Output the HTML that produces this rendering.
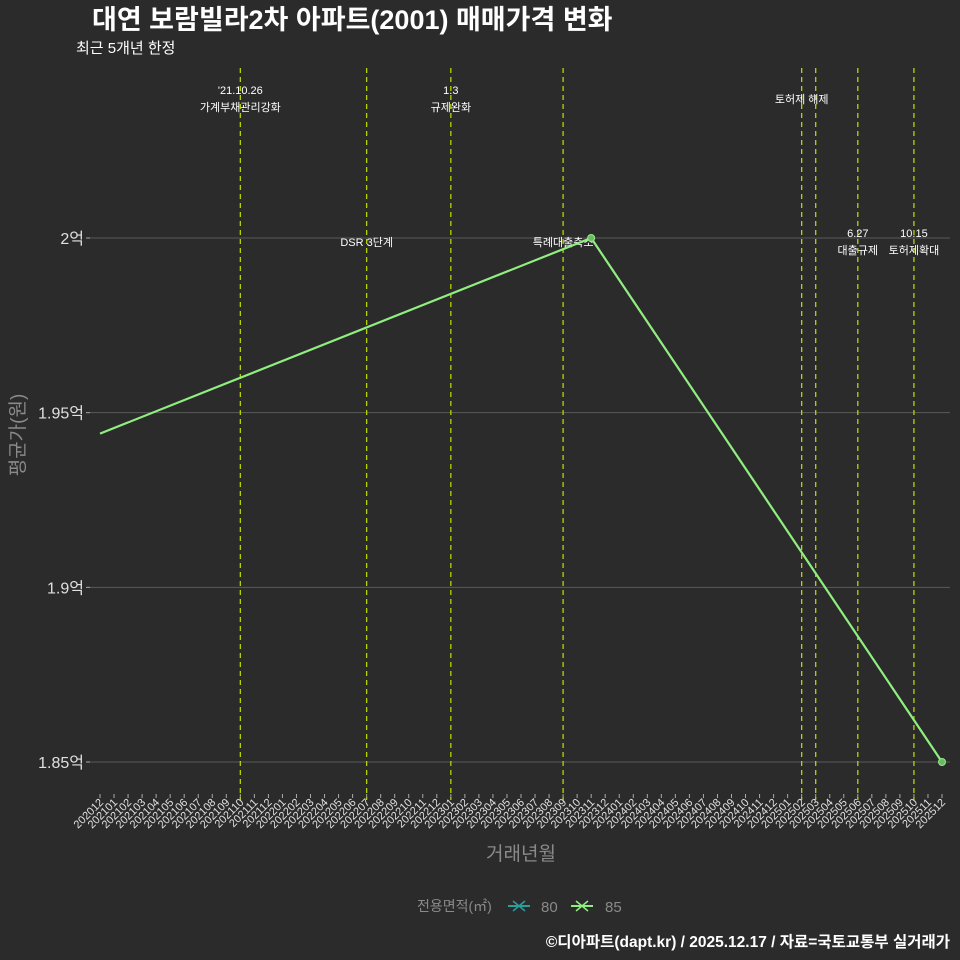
<!DOCTYPE html>
<html><head><meta charset="utf-8">
<style>
html,body{margin:0;padding:0;background:#2b2b2b;}
svg{display:block;font-family:"Liberation Sans","Noto Sans CJK KR",sans-serif;}
</style></head>
<body>
<svg id="chart" width="960" height="960" viewBox="0 0 960 960">
<rect width="960" height="960" fill="#2b2b2b"/>
<text x="92" y="29" font-size="27" font-weight="bold" fill="#ffffff">대연 보람빌라2차 아파트(2001) 매매가격 변화</text>
<text x="76" y="53" font-size="15" fill="#ffffff">최근 5개년 한정</text>
<g id="grid"></g><g id="events"></g><g id="series"></g><g id="axes"></g>
<text x="24" y="435" font-size="19" fill="#8a8a8a" text-anchor="middle" transform="rotate(-90 24 435)">평균가(원)</text>
<text x="521" y="860" font-size="19" fill="#8a8a8a" text-anchor="middle">거래년월</text>
<g>
<text x="417" y="911" font-size="14" fill="#8a8a8a">전용면적(㎡)</text>
<g><line x1="508" y1="906" x2="530" y2="906" stroke="#2a9d9d" stroke-width="2"/><line x1="513" y1="901" x2="525" y2="911" stroke="#2a9d9d" stroke-width="1.5"/><line x1="513" y1="911" x2="525" y2="901" stroke="#2a9d9d" stroke-width="1.5"/><text x="541" y="912" font-size="15" fill="#8a8a8a">80</text></g>
<g><line x1="571" y1="906" x2="593" y2="906" stroke="#90ee80" stroke-width="2"/><line x1="576" y1="901" x2="588" y2="911" stroke="#90ee80" stroke-width="1.5"/><line x1="576" y1="911" x2="588" y2="901" stroke="#90ee80" stroke-width="1.5"/><text x="605" y="912" font-size="15" fill="#8a8a8a">85</text></g>
</g>
<text x="950" y="947" font-size="15.5" font-weight="bold" fill="#ffffff" text-anchor="end">©디아파트(dapt.kr) / 2025.12.17 / 자료=국토교통부 실거래가</text>
</svg>
<script>
const months = [];
for (let y = 2020, m = 12; y < 2026; ) { months.push(y + String(m).padStart(2,'0')); m++; if (m > 12) { m = 1; y++; } if (y === 2026) break; }
const yTicks = [1.85, 1.9, 1.95, 2.0];
const yTickLabels = ["1.85억", "1.9억", "1.95억", "2억"];
const series85Months = ["202012", "202311", "202512"];
const series85Values = [1.944, 2.0, 1.85];
const series85Points = ["202311", "202512"];
const eventMonths = ["202110", "202207", "202301", "202309", "202502", "202503", "202506", "202510"];
const eventLabels = [["'21.10.26","가계부채관리강화"],["DSR 3단계"],["1.3","규제완화"],["특례대출축소"],["토허제 해제"],[],["6.27","대출규제"],["10.15","토허제확대"]];
const eventLabelY = [[94,111],[246],[94,111],[246],[103],[],[237,254],[237,254]];
const eventLabelDx = [0,0,0,0,0,0,0,0];

const NS = "http://www.w3.org/2000/svg";
const X0 = 100, X1 = 942, Y0 = 762, Y1 = 238;
const xs = m => X0 + months.indexOf(m) * (X1 - X0) / (months.length - 1);
const ys = v => Y0 + (v - 1.85) * (Y1 - Y0) / 0.15;
function el(tag, attrs, parent) { const e = document.createElementNS(NS, tag); for (const k in attrs) e.setAttribute(k, attrs[k]); parent.appendChild(e); return e; }
const grid = document.getElementById('grid'), axes = document.getElementById('axes'), ev = document.getElementById('events'), ser = document.getElementById('series');

yTicks.forEach((t, i) => {
  const g = el('line', {x1: 90, x2: 950, y1: ys(t), y2: ys(t), stroke: '#5a5a5a', 'stroke-width': 1}, grid);
  
  
  const tk = el('line', {x1: 86, x2: 90, y1: ys(t), y2: ys(t), stroke: '#aaa'}, axes);
  
  
  const tx = el('text', {x: 84, y: ys(t) + 6, 'font-size': 16, fill: '#e0e0e0', 'text-anchor': 'end'}, axes);
  tx.textContent = yTickLabels[i];
  
  
});
months.forEach(m => {
  const x = xs(m);
  const tk = el('line', {x1: x, x2: x, y1: 794, y2: 798, stroke: '#aaa'}, axes);
  
  
  const tx = el('text', {x: x + 4, y: 803, 'font-size': 11, fill: '#e0e0e0', 'text-anchor': 'end', transform: `rotate(-45 ${x + 4} 803)`}, axes);
  tx.textContent = m;
  
  
});
eventMonths.forEach((m, i) => {
  const x = xs(m);
  const l = el('line', {x1: x, x2: x, y1: 68, y2: 800, stroke: '#b8d400', 'stroke-width': 1.3, 'stroke-dasharray': '5,4'}, ev);
  
  
  eventLabels[i].forEach((s, j) => {
    const t = el('text', {x: x + eventLabelDx[i], y: eventLabelY[i][j], 'font-size': 11, fill: '#ffffff', 'text-anchor': 'middle'}, ev);
    t.textContent = s;
    
    
  });
});
const pts = series85Months.map((m, i) => xs(m) + ',' + ys(series85Values[i])).join(' ');
const line = el('polyline', {points: pts, fill: 'none', stroke: '#90ee80', 'stroke-width': 2.2}, ser);


series85Points.forEach(m => {
  const v = series85Values[series85Months.indexOf(m)];
  const c = el('circle', {cx: xs(m), cy: ys(v), r: 3.5, fill: '#6fb86a', stroke: '#90ee80', 'stroke-width': 1}, ser);
  
  
});
</script>
</body></html>
